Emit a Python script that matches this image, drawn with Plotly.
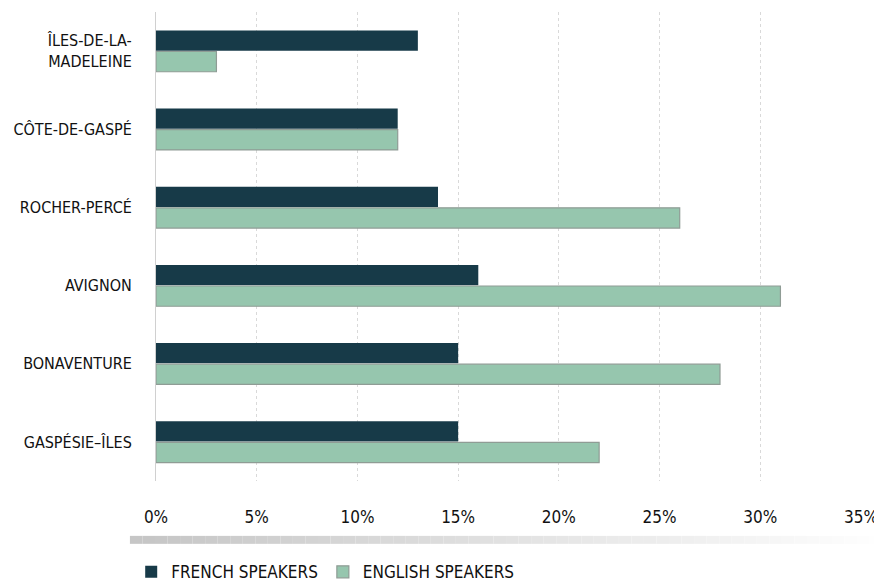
import plotly.graph_objects as go

# data
regions = ["ÎLES-DE-LA-<br>MADELEINE", "CÔTE-DE-GASPÉ", "ROCHER-PERCÉ",
           "AVIGNON", "BONAVENTURE", "GASPÉSIE–ÎLES"]
french = [13, 12, 14, 16, 15, 15]
english = [3, 12, 26, 31, 28, 22]
x_ticks = [0, 5, 10, 15, 20, 25, 30, 35]

FONT = "Liberation Sans Narrow, DejaVu Sans Condensed, Arial Narrow, sans-serif"

fig = go.Figure()
fig.add_trace(go.Bar(
    y=regions, x=french, orientation="h", name="FRENCH SPEAKERS",
    marker=dict(color="#173a48", line=dict(width=0)),
))
fig.add_trace(go.Bar(
    y=regions, x=english, orientation="h", name="ENGLISH SPEAKERS",
    marker=dict(color="#96c6ae", line=dict(color="#8f9c95", width=1.2)),
))

# grey gradient strip under the axis labels
n = 60
for i in range(n):
    t = i / n
    g = int(198 + 57 * t)
    fig.add_shape(type="rect", xref="paper", yref="paper",
                  x0=-0.037 + (1.03 + 0.037) * t, x1=-0.037 + (1.03 + 0.037) * (i + 1) / n,
                  y0=-0.134, y1=-0.117, line=dict(width=0),
                  fillcolor=f"rgb({g},{g},{g})", layer="below")

fig.update_layout(
    width=874, height=574,
    margin=dict(l=148, r=21, t=4, b=101),
    paper_bgcolor="white", plot_bgcolor="white",
    font=dict(family=FONT, size=17, color="#111"),
    barmode="group", bargap=0.46, bargroupgap=0.04,
    showlegend=True,
    legend=dict(orientation="h", x=0.24, xanchor="center",
                yref="container", y=0.017, yanchor="middle",
                font=dict(size=17), traceorder="normal", itemwidth=30),
    xaxis=dict(range=[0, 35], tickvals=x_ticks, ticktext=[f"{v}%" for v in x_ticks],
               showgrid=True, gridcolor="#d9d9d9", griddash="dot", gridwidth=1,
               zeroline=False, showline=False, ticks="", ticklabelstandoff=24,
               automargin=False, tickfont=dict(size=17), ticklabeloverflow="allow"),
    yaxis=dict(autorange="reversed", showgrid=False, showline=True, linecolor="#d0d0d0",
               linewidth=1, ticks="", ticklabelstandoff=20, automargin=False,
               tickfont=dict(size=16)),
)

fig.write_html("out.html")
